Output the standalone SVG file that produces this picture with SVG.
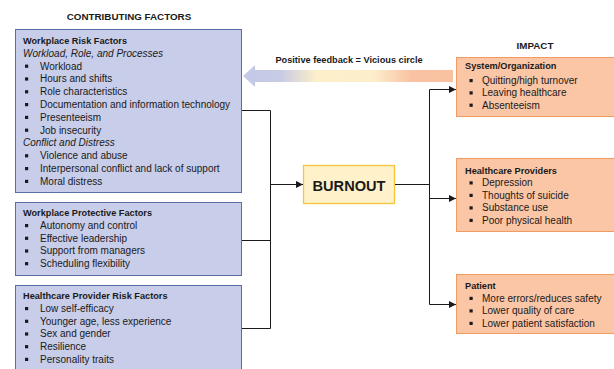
<svg xmlns="http://www.w3.org/2000/svg" width="614" height="369" viewBox="0 0 614 369">
<defs>
<linearGradient id="fb" x1="243" y1="0" x2="453" y2="0" gradientUnits="userSpaceOnUse">
<stop offset="0" stop-color="#c3c9e8"/>
<stop offset="0.18" stop-color="#c8cbe4"/>
<stop offset="0.35" stop-color="#fcefc9"/>
<stop offset="0.62" stop-color="#fdeecb"/>
<stop offset="0.8" stop-color="#f9c3a3"/>
<stop offset="1" stop-color="#f9c1a0"/>
</linearGradient>
<marker id="ah" markerWidth="8" markerHeight="8" refX="7" refY="4" orient="auto" markerUnits="userSpaceOnUse">
<path d="M0,0.5 L7,4 L0,7.5 z" fill="#1a1a1a"/>
</marker>
</defs>
<style>
text{font-family:"Liberation Sans",Arial,sans-serif;font-size:10px;fill:#1a1a1a}
.h{font-weight:bold;font-size:9.8px}
.t{font-weight:bold;font-size:9.2px}
.i{font-style:italic}
.lb{fill:#c8cde9;stroke:#5a6ea5;stroke-width:1}
.rb{fill:#fbc6a6;stroke:#f39a62;stroke-width:1}
.b{fill:#1a1a1a}
.c{fill:none;stroke:#1a1a1a;stroke-width:1}
</style>
<text class="h" x="129" y="20" text-anchor="middle">CONTRIBUTING FACTORS</text>
<text class="h" x="535" y="49" text-anchor="middle">IMPACT</text>

<g id="feedback">
<polygon points="243,76 255,65 255,70 453,70 453,82 255,82 255,87" fill="url(#fb)"/>
<text class="t" x="349" y="63" text-anchor="middle">Positive feedback = Vicious circle</text>
</g>

<g id="workplace-risk">
<rect class="lb" x="15.5" y="29.5" width="226" height="163"/>
<text class="t" x="23" y="44">Workplace Risk Factors</text>
<text class="i" x="23" y="56.8">Workload, Role, and Processes</text>
<rect class="b" x="25" y="64.6" width="3.2" height="3.2"/><text x="40" y="69.6">Workload</text>
<rect class="b" x="25" y="77.4" width="3.2" height="3.2"/><text x="40" y="82.4">Hours and shifts</text>
<rect class="b" x="25" y="90.2" width="3.2" height="3.2"/><text x="40" y="95.2">Role characteristics</text>
<rect class="b" x="25" y="103" width="3.2" height="3.2"/><text x="40" y="108">Documentation and information technology</text>
<rect class="b" x="25" y="115.8" width="3.2" height="3.2"/><text x="40" y="120.8">Presenteeism</text>
<rect class="b" x="25" y="128.6" width="3.2" height="3.2"/><text x="40" y="133.6">Job insecurity</text>
<text class="i" x="23" y="146.4">Conflict and Distress</text>
<rect class="b" x="25" y="154.2" width="3.2" height="3.2"/><text x="40" y="159.2">Violence and abuse</text>
<rect class="b" x="25" y="167" width="3.2" height="3.2"/><text x="40" y="172">Interpersonal conflict and lack of support</text>
<rect class="b" x="25" y="179.8" width="3.2" height="3.2"/><text x="40" y="184.8">Moral distress</text>
</g>

<g id="workplace-protective">
<rect class="lb" x="15.5" y="202.5" width="226" height="73"/>
<text class="t" x="23" y="216">Workplace Protective Factors</text>
<rect class="b" x="25" y="224" width="3.2" height="3.2"/><text x="40" y="229">Autonomy and control</text>
<rect class="b" x="25" y="236.7" width="3.2" height="3.2"/><text x="40" y="241.7">Effective leadership</text>
<rect class="b" x="25" y="249.4" width="3.2" height="3.2"/><text x="40" y="254.4">Support from managers</text>
<rect class="b" x="25" y="262.1" width="3.2" height="3.2"/><text x="40" y="267.1">Scheduling flexibility</text>
</g>

<g id="provider-risk">
<rect class="lb" x="15.5" y="285.5" width="226" height="100"/>
<text class="t" x="23" y="299">Healthcare Provider Risk Factors</text>
<rect class="b" x="25" y="307" width="3.2" height="3.2"/><text x="40" y="312">Low self-efficacy</text>
<rect class="b" x="25" y="319.7" width="3.2" height="3.2"/><text x="40" y="324.7">Younger age, less experience</text>
<rect class="b" x="25" y="332.4" width="3.2" height="3.2"/><text x="40" y="337.4">Sex and gender</text>
<rect class="b" x="25" y="345.1" width="3.2" height="3.2"/><text x="40" y="350.1">Resilience</text>
<rect class="b" x="25" y="357.8" width="3.2" height="3.2"/><text x="40" y="362.8">Personality traits</text>
</g>

<g id="burnout">
<rect x="303.5" y="165.5" width="91" height="38" fill="#fff1c9" stroke="#f8c43a" stroke-width="1.3"/>
<text x="349" y="190.5" text-anchor="middle" style="font-weight:bold;font-size:14.6px">BURNOUT</text>
</g>

<g id="system">
<rect class="rb" x="456.5" y="57.5" width="170" height="59"/>
<text class="t" x="465" y="69">System/Organization</text>
<rect class="b" x="469.5" y="79" width="3.2" height="3.2"/><text x="482" y="84">Quitting/high turnover</text>
<rect class="b" x="469.5" y="91.3" width="3.2" height="3.2"/><text x="482" y="96.3">Leaving healthcare</text>
<rect class="b" x="469.5" y="103.6" width="3.2" height="3.2"/><text x="482" y="108.6">Absenteeism</text>
</g>

<g id="providers">
<rect class="rb" x="456.5" y="158.5" width="170" height="73"/>
<text class="t" x="465" y="174">Healthcare Providers</text>
<rect class="b" x="469.5" y="181.3" width="3.2" height="3.2"/><text x="482" y="186.3">Depression</text>
<rect class="b" x="469.5" y="193.8" width="3.2" height="3.2"/><text x="482" y="198.8">Thoughts of suicide</text>
<rect class="b" x="469.5" y="206.3" width="3.2" height="3.2"/><text x="482" y="211.3">Substance use</text>
<rect class="b" x="469.5" y="218.8" width="3.2" height="3.2"/><text x="482" y="223.8">Poor physical health</text>
</g>

<g id="patient">
<rect class="rb" x="456.5" y="274.5" width="170" height="59"/>
<text class="t" x="465" y="289">Patient</text>
<rect class="b" x="469.5" y="296.8" width="3.2" height="3.2"/><text x="482" y="301.8">More errors/reduces safety</text>
<rect class="b" x="469.5" y="309.3" width="3.2" height="3.2"/><text x="482" y="314.3">Lower quality of care</text>
<rect class="b" x="469.5" y="321.8" width="3.2" height="3.2"/><text x="482" y="326.8">Lower patient satisfaction</text>
</g>

<g id="connectors">
<polyline class="c" points="242,110.5 270.5,110.5 270.5,328.5 242,328.5"/>
<line class="c" x1="242" y1="240.5" x2="270.5" y2="240.5"/>
<line class="c" x1="270.5" y1="184.5" x2="303" y2="184.5" marker-end="url(#ah)"/>
<line class="c" x1="395" y1="184.5" x2="429.5" y2="184.5"/>
<line class="c" x1="429.5" y1="89.5" x2="429.5" y2="304.5"/>
<line class="c" x1="429.5" y1="89.5" x2="456" y2="89.5" marker-end="url(#ah)"/>
<line class="c" x1="429.5" y1="198.5" x2="456" y2="198.5" marker-end="url(#ah)"/>
<line class="c" x1="429.5" y1="304.5" x2="456" y2="304.5" marker-end="url(#ah)"/>
</g>
</svg>
